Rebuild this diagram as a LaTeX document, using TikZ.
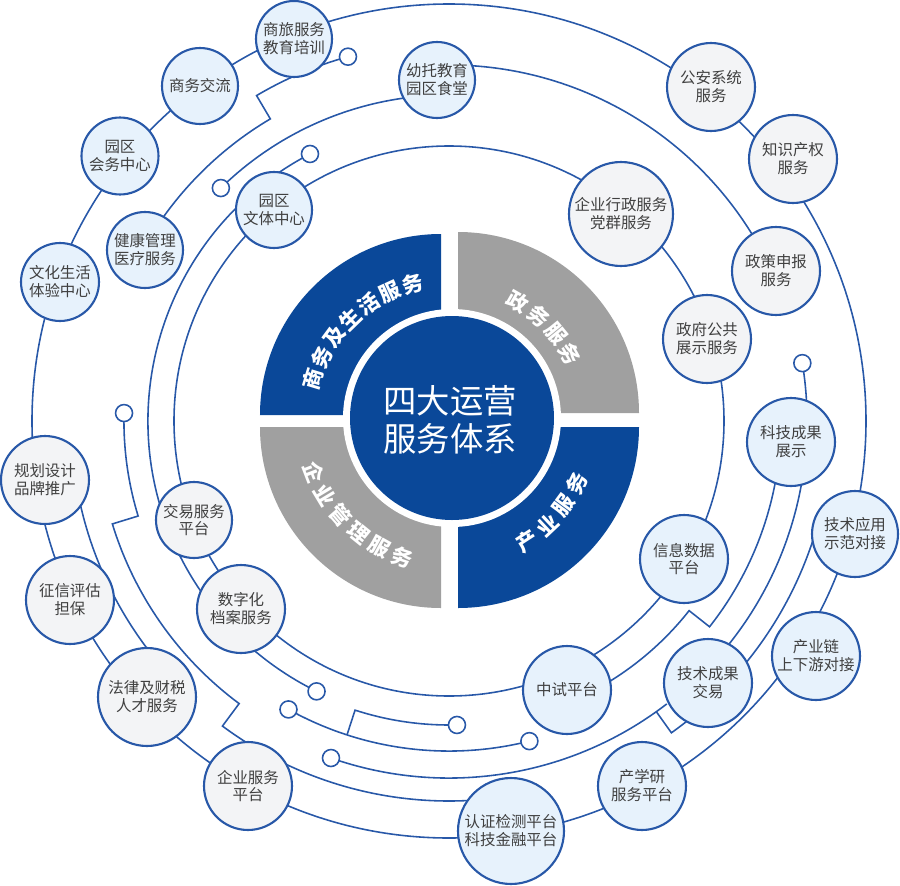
\documentclass[tikz,border=0pt]{standalone}
\usepackage{fontspec}
\setmainfont{Noto Sans CJK SC}
\usepackage{tikz}
\definecolor{coreblue}{RGB}{10,72,153}
\definecolor{coregray}{RGB}{160,160,160}
\definecolor{traceblue}{RGB}{40,88,168}
\definecolor{fillblue}{RGB}{231,242,252}
\definecolor{fillgray}{RGB}{243,244,246}
\definecolor{textgray}{RGB}{64,64,64}

\begin{document}
\begin{tikzpicture}[scale=0.02,
  trace/.style={draw=traceblue, line width=0.9pt},
  svc/.style={circle, draw=traceblue, line width=1.2pt, inner sep=0pt,
              minimum size=#1, align=center, text=textgray,
              font=\fontsize{8.8}{10.2}\selectfont},
  life/.style={svc={#1}, fill=fillblue},
  admin/.style={svc={#1}, fill=fillgray},
  dotend/.style={circle, draw=traceblue, fill=white, line width=0.9pt,
                 inner sep=0pt, minimum size=0.34cm},
  qlabel/.style={text=white, inner sep=0pt,
                 font=\bfseries\fontsize{12}{12}\selectfont}]
  \useasboundingbox (-449,-464) rectangle (451,421);

  % aneis completos
  \draw[trace] (0,0) circle[radius=417];
  \draw[trace] (0,0) circle[radius=275];

  % pontas livres
  \coordinate (pinA) at (105.5:378);
  \coordinate (pinB) at (134.4:326);
  \coordinate (pinC) at (117.5:301);
  \coordinate (pinD) at (243.9:301);
  \coordinate (pinE) at (178.6:325);
  \coordinate (pinF) at (240.9:330);
  \coordinate (pinG) at (284.1:330);
  \coordinate (pinH) at (271.5:304);
  \coordinate (pinI) at (250.7:357);
  \coordinate (pinJ) at (9.3:358);

  % trilhas em arco
  \draw[trace] (pinA) arc[start angle=105.5, end angle=120.6, radius=378]
    -- (120.6:351) arc[start angle=120.6, end angle=150.6, radius=351];
  \draw[trace] (pinB) arc[start angle=134.4, end angle=92, radius=326];
  \draw[trace] (92:356) arc[start angle=92, end angle=24.6, radius=356];
  \draw[trace] (pinC) arc[start angle=117.5, end angle=243.9, radius=301];
  \draw[trace] (pinE) arc[start angle=178.6, end angle=197, radius=325]
    -- (197:352) arc[start angle=197, end angle=233.4, radius=352]
    -- (233.4:380) arc[start angle=233.4, end angle=279, radius=380];
  \draw[trace] (188.3:378) arc[start angle=188.3, end angle=222.4, radius=378];
  \draw[trace] (pinF) arc[start angle=240.9, end angle=284.1, radius=330];
  \draw[trace] (252:330) -- (252:304) arc[start angle=252, end angle=271.5, radius=304];
  \draw[trace] (pinI) arc[start angle=250.7, end angle=307.6, radius=357];
  \draw[trace] (305.5:357) -- (305.5:383) arc[start angle=305.5, end angle=344.4, radius=383];
  \draw[trace] (293.7:306) arc[start angle=293.7, end angle=321.7, radius=306]
    -- (321.7:332) arc[start angle=321.7, end angle=356.5, radius=332];
  \draw[trace] (pinJ) arc[start angle=9.3, end angle=-45.3, radius=358];

  \foreach \p in {pinA,pinB,pinC,pinD,pinE,pinF,pinG,pinH,pinI,pinJ}
    \node[dotend] (\p-end) at (\p) {};

  % quadrantes
  \fill[coreblue] (-8,6) -- (-8,187) arc[start angle=90, end angle=180, radius=181] -- cycle;
  \fill[coregray] (9,8) -- (190,8) arc[start angle=0, end angle=90, radius=181] -- cycle;
  \fill[coregray] (-8,-6) -- (-189,-6) arc[start angle=180, end angle=270, radius=181] -- cycle;
  \fill[coreblue] (9,-6) -- (9,-187) arc[start angle=270, end angle=360, radius=181] -- cycle;
  \fill[white] (3,3) circle[radius=109];
  \fill[coreblue] (3,3) circle[radius=102];
  \node[text=white, align=center, font=\fontsize{19}{21.5}\selectfont]
    (core) at (1,1) {四大运营\\服务体系};

  % rotulos dos quadrantes
  \foreach \ch [count=\i] in {商,务,及,生,活,服,务}
    \node[qlabel, rotate={73-(\i-1)*9.67}] at ({163-(\i-1)*9.67}:142) {\ch};
  \foreach \ch [count=\i] in {政,务,服,务}
    \node[qlabel, rotate={-30-(\i-1)*10.3}] at ({60-(\i-1)*10.3}:138) {\ch};
  \foreach \ch [count=\i] in {企,业,管,理,服,务}
    \node[qlabel, rotate={291+(\i-1)*10}] at ({201+(\i-1)*10}:144) {\ch};
  \foreach \ch [count=\i] in {产,业,服,务}
    \node[qlabel, rotate={393+(\i-1)*10.3}] at ({303+(\i-1)*10.3}:143) {\ch};

  % servicos: 商务及生活
  \node[life=1.52cm] (shanglv) at (-155,382) {商旅服务\\教育培训};
  \node[life=1.52cm] (shangwu) at (-249,335) {商务交流};
  \node[life=1.54cm] (huiwu) at (-329,265) {园区\\会务中心};
  \node[life=1.56cm] (wenhua) at (-389,139) {文化生活\\体验中心};
  \node[life=1.52cm] (jiankang) at (-304,171) {健康管理\\医疗服务};
  \node[life=1.52cm] (wenti) at (-175,211) {园区\\文体中心};
  \node[life=1.52cm] (youtuo) at (-12,341) {幼托教育\\园区食堂};

  % servicos: 政务
  \node[admin=1.76cm] (gongan) at (262,334) {公安系统\\服务};
  \node[admin=1.76cm] (zhishi) at (344,262) {知识产权\\服务};
  \node[admin=2.08cm] (qiyexz) at (172,207) {企业行政服务\\党群服务};
  \node[admin=1.76cm] (zhengce) at (327,150) {政策申报\\服务};
  \node[admin=1.76cm] (zhengfu) at (258,82) {政府公共\\展示服务};

  % servicos: 产业
  \node[life=1.76cm] (kejizs) at (342,-21) {科技成果\\展示};
  \node[life=1.72cm] (jsyy) at (406,-113) {技术应用\\示范对接};
  \node[life=1.76cm] (chanyel) at (367,-235) {产业链\\上下游对接};
  \node[life=1.76cm] (xinxi) at (235,-138) {信息数据\\平台};
  \node[life=1.76cm] (zhongshi) at (118,-269) {中试平台};
  \node[life=1.76cm] (jscg) at (259,-262) {技术成果\\交易};
  \node[life=1.76cm] (chanxue) at (193,-365) {产学研\\服务平台};
  \node[life=2.12cm] (renzheng) at (62,-410) {认证检测平台\\科技金融平台};

  % servicos: 企业管理
  \node[admin=1.76cm] (guihua) at (-404,-59) {规划设计\\品牌推广};
  \node[admin=1.76cm] (zhengxin) at (-379,-179) {征信评估\\担保};
  \node[admin=1.96cm] (falv) at (-302,-276) {法律及财税\\人才服务};
  \node[admin=1.76cm] (qyfw) at (-201,-365) {企业服务\\平台};
  \node[admin=1.52cm] (jyfw) at (-255,-99) {交易服务\\平台};
  \node[admin=1.76cm] (shuzi) at (-208,-188) {数字化\\档案服务};
\end{tikzpicture}
\end{document}
